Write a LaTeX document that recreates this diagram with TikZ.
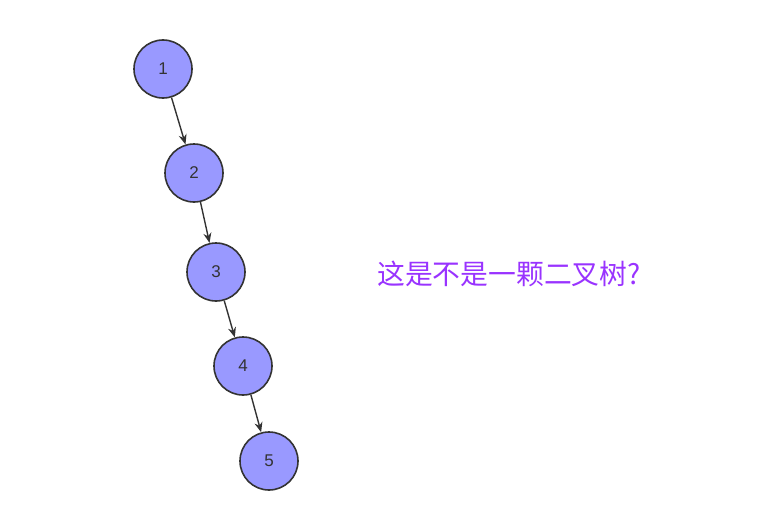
\documentclass[tikz,border=0pt]{standalone}
\usepackage{fontspec}
\setmainfont{Liberation Sans}
\newfontfamily\cjk{Noto Sans CJK SC}
\usetikzlibrary{arrows.meta}
\definecolor{nodefill}{HTML}{9999FF}
\definecolor{edge}{HTML}{333333}
\definecolor{qpurple}{HTML}{9933FF}
\begin{document}
\begin{tikzpicture}[x=1pt,y=-1pt,
  treenode/.style={circle,draw=edge,fill=nodefill,line width=1.6pt,minimum size=58pt,inner sep=0pt,font=\fontsize{17}{20}\selectfont,text=edge},
  link/.style={draw=edge,line width=1.4pt,-{Stealth[length=10pt,width=8pt]}}]
\useasboundingbox (0,0) rectangle (764,522);
\node[treenode] (n1) at (163,69) {1};
\node[treenode] (n2) at (194,173) {2};
\node[treenode] (n3) at (216,272) {3};
\node[treenode] (n4) at (243,366) {4};
\node[treenode] (n5) at (269,461) {5};
\draw[link] (n1) -- (n2);
\draw[link] (n2) -- (n3);
\draw[link] (n3) -- (n4);
\draw[link] (n4) -- (n5);
\node[text=qpurple,font=\cjk\fontsize{27.8}{32}\selectfont,anchor=west,inner sep=0pt] (q) at (377,274) {这是不是一颗二叉树?};
\end{tikzpicture}
\end{document}
